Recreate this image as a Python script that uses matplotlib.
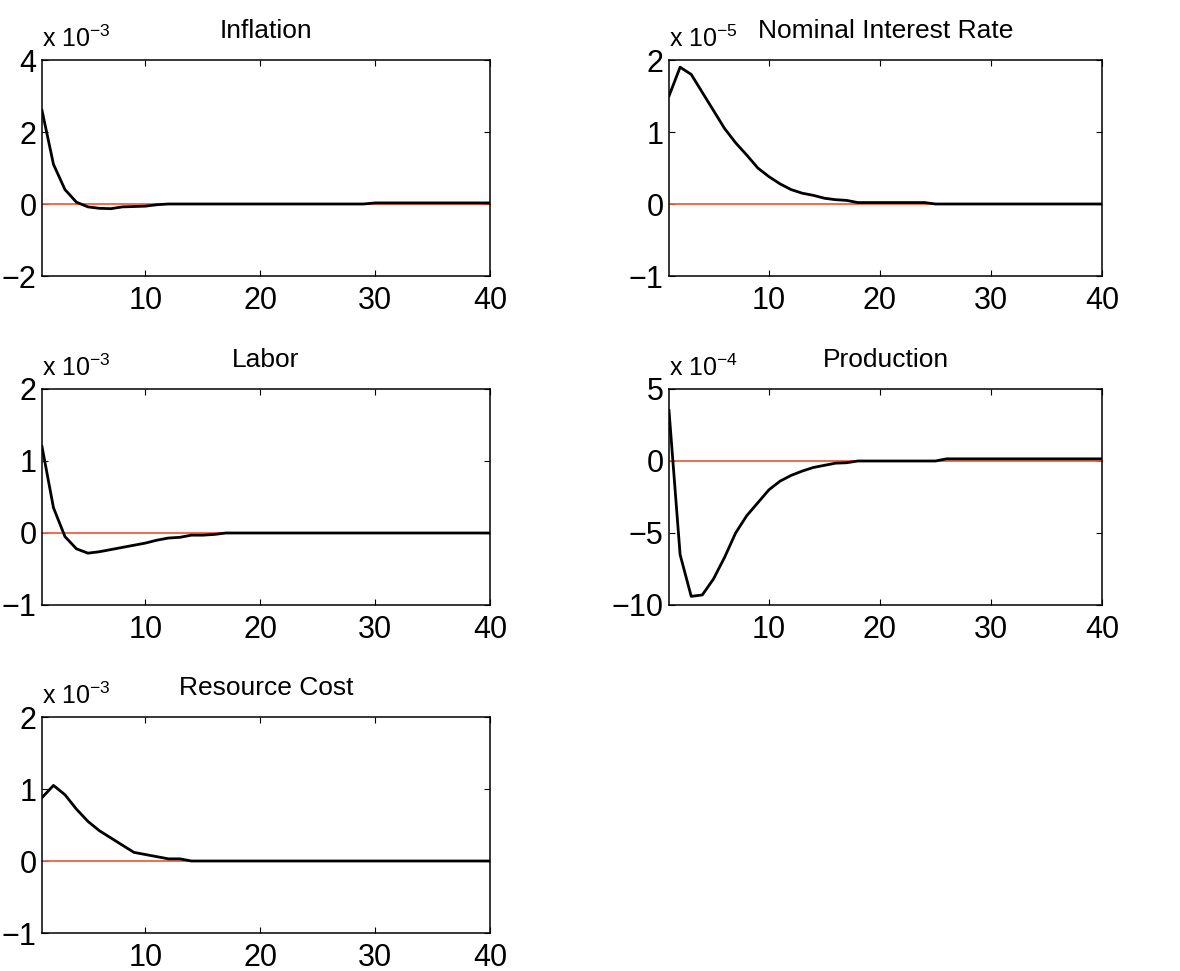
import matplotlib.pyplot as plt
import numpy as np

plt.rcParams['font.family'] = ['Liberation Sans', 'DejaVu Sans']
plt.rcParams['mathtext.fontset'] = 'custom'
plt.rcParams['mathtext.rm'] = 'Liberation Sans'
plt.rcParams['mathtext.it'] = 'Liberation Sans'

periods = np.arange(1, 41)

# impulse responses (in units of the exponent shown above each panel)
inflation = [2.6, 1.1, 0.4, 0.05, -0.08, -0.12, -0.13, -0.08, -0.07, -0.06,
             -0.02] + [0.0] * 18 + [0.03] * 11
interest = [1.5, 1.9, 1.8, 1.55, 1.3, 1.05, 0.85, 0.68, 0.5, 0.38,
            0.28, 0.2, 0.15, 0.12, 0.08, 0.06, 0.05, 0.02, 0.02, 0.02,
            0.02, 0.02, 0.02, 0.02] + [0.0] * 16
labor = [1.2, 0.35, -0.05, -0.22, -0.28, -0.26, -0.23, -0.2, -0.17, -0.14,
         -0.1, -0.07, -0.06, -0.03, -0.03, -0.02] + [0.0] * 24
production = [3.5, -6.5, -9.4, -9.3, -8.2, -6.7, -5.0, -3.8, -2.9, -2.0,
              -1.4, -1.0, -0.7, -0.45, -0.3, -0.15, -0.12, 0.0, 0.0, 0.0,
              0.0, 0.0, 0.0, 0.0, 0.0] + [0.15] * 15
resource = [0.88, 1.05, 0.92, 0.72, 0.55, 0.42, 0.32, 0.22, 0.12, 0.09,
            0.06, 0.03, 0.03] + [0.0] * 27

panels = [
    ("Inflation", inflation, -3, [-2, 0, 2, 4]),
    ("Nominal Interest Rate", interest, -5, [-1, 0, 1, 2]),
    ("Labor", labor, -3, [-1, 0, 1, 2]),
    ("Production", production, -4, [-10, -5, 0, 5]),
    ("Resource Cost", resource, -3, [-1, 0, 1, 2]),
]

W, H = 1180, 971
boxes = [(42, 60), (669, 60), (42, 389), (669, 389), (42, 717)]
widths = [448, 433, 448, 433, 448]

fig = plt.figure(figsize=(W / 100, H / 100), dpi=100)

for (title, vals, expo, yt), (left, top), w in zip(panels, boxes, widths):
    ax = fig.add_axes([left / W, 1 - (top + 216) / H, w / W, 216 / H])
    ax.plot(periods, np.zeros(len(periods)), color='#f06040', lw=1.3)
    ax.plot(periods, vals, color='black', lw=2.0)
    ax.set_xlim(1, 40)
    ax.set_ylim(yt[0], yt[-1])
    ax.set_xticks([10, 20, 30, 40])
    ax.set_yticks(yt)
    ax.set_yticklabels([str(v).replace('-', '\u2212') for v in yt])
    ax.tick_params(direction='in', length=4, width=0.8, top=True, right=True,
                   labelsize=22)
    ax.tick_params(axis='x', pad=7)
    ax.tick_params(axis='y', pad=4)
    for s in ax.spines.values():
        s.set_linewidth(1.1)
    ax.set_title(title, fontsize=19, pad=16)
    ax.text(0.0, 1.035, r'x 10$^{-%d}$' % (-expo),
            transform=ax.transAxes, fontsize=18, ha='left', va='bottom')

fig.savefig('out.png', dpi=100)
